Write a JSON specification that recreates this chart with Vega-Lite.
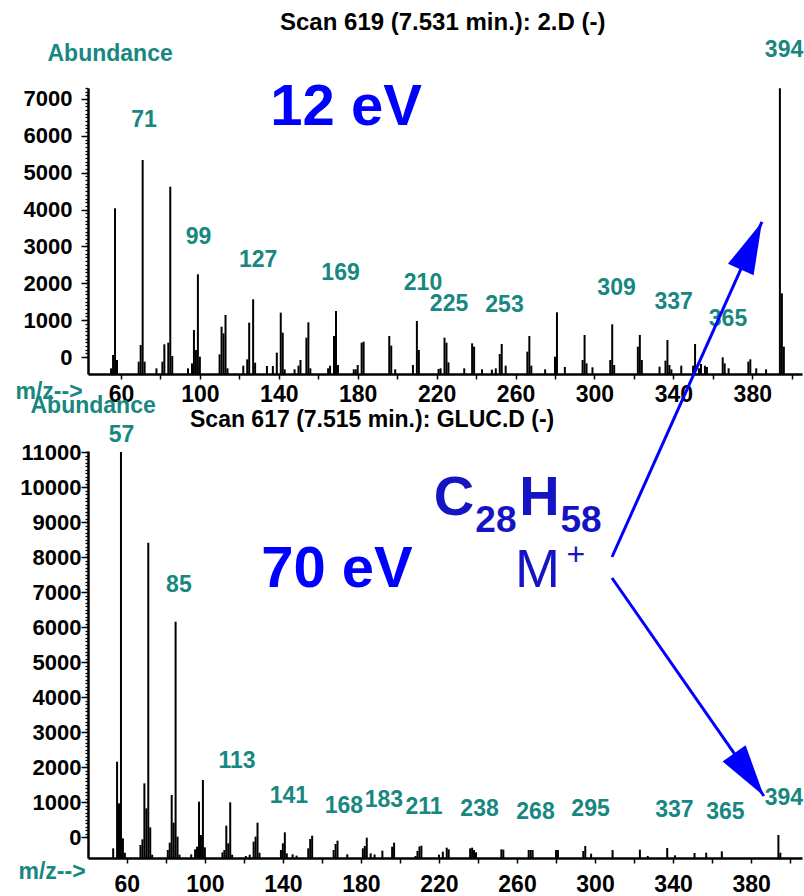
{
  "$schema": "https://vega.github.io/schema/vega-lite/v6.json",
  "background": "white",
  "padding": {"left": 15, "top": 11, "right": 0, "bottom": 0},
  "bounds": "flush",
  "spacing": 77,
  "config": {
    "view": {"stroke": null},
    "font": "Liberation Sans",
    "axis": {"grid": false, "domainColor": "black", "domainWidth": 2.5, "tickColor": "black", "tickWidth": 1.5, "labelColor": "black", "labelFont": "Liberation Sans", "labelFontWeight": "bold", "labelFontSize": 23, "labelOverlap": false, "labelFlush": false, "titleFont": "Liberation Sans", "titleFontWeight": "bold", "titleFontSize": 23, "titleColor": "#17877f", "titleAngle": 0, "titleAlign": "left", "titleBaseline": "alphabetic"}
  },
  "datasets": {
    "spec12": [
      {"mz":55,"abundance":154},{"mz":56,"abundance":515},{"mz":57,"abundance":4495},{"mz":58,"abundance":380},
      {"mz":69,"abundance":334},{"mz":70,"abundance":787},{"mz":71,"abundance":5806},{"mz":72,"abundance":334},
      {"mz":78,"abundance":154},
      {"mz":81,"abundance":334},{"mz":82,"abundance":805},{"mz":84,"abundance":850},{"mz":85,"abundance":5081},{"mz":86,"abundance":488},
      {"mz":94,"abundance":154},{"mz":96,"abundance":289},{"mz":97,"abundance":1194},{"mz":98,"abundance":651},{"mz":99,"abundance":2704},{"mz":100,"abundance":470},
      {"mz":110,"abundance":534},{"mz":111,"abundance":1284},{"mz":112,"abundance":1103},{"mz":113,"abundance":1601},{"mz":114,"abundance":154},
      {"mz":122,"abundance":226},{"mz":124,"abundance":398},{"mz":125,"abundance":1393},{"mz":127,"abundance":2026},{"mz":128,"abundance":307},
      {"mz":134,"abundance":217},{"mz":137,"abundance":217},{"mz":139,"abundance":579},{"mz":141,"abundance":1664},{"mz":142,"abundance":1122},{"mz":143,"abundance":127},
      {"mz":148,"abundance":127},{"mz":150,"abundance":226},{"mz":151,"abundance":380},{"mz":154,"abundance":986},{"mz":155,"abundance":1402},{"mz":156,"abundance":154},
      {"mz":165,"abundance":154},{"mz":166,"abundance":226},{"mz":168,"abundance":1031},{"mz":169,"abundance":1709},{"mz":170,"abundance":244},
      {"mz":178,"abundance":127},{"mz":179,"abundance":127},{"mz":180,"abundance":244},{"mz":182,"abundance":850},{"mz":183,"abundance":877},
      {"mz":196,"abundance":1031},{"mz":197,"abundance":769},{"mz":199,"abundance":127},
      {"mz":208,"abundance":244},{"mz":210,"abundance":1438},{"mz":211,"abundance":651},
      {"mz":221,"abundance":136},{"mz":222,"abundance":154},{"mz":224,"abundance":986},{"mz":225,"abundance":850},{"mz":226,"abundance":316},
      {"mz":234,"abundance":154},{"mz":238,"abundance":832},{"mz":239,"abundance":741},{"mz":243,"abundance":127},
      {"mz":248,"abundance":118},{"mz":250,"abundance":154},{"mz":252,"abundance":543},{"mz":253,"abundance":814},{"mz":255,"abundance":226},
      {"mz":266,"abundance":606},{"mz":267,"abundance":1031},{"mz":268,"abundance":226},
      {"mz":275,"abundance":127},{"mz":280,"abundance":470},{"mz":281,"abundance":1673},{"mz":285,"abundance":190},
      {"mz":294,"abundance":380},{"mz":295,"abundance":1058},{"mz":296,"abundance":289},{"mz":299,"abundance":181},
      {"mz":308,"abundance":380},{"mz":309,"abundance":1348},{"mz":310,"abundance":244},
      {"mz":322,"abundance":741},{"mz":323,"abundance":1058},{"mz":324,"abundance":380},
      {"mz":333,"abundance":199},{"mz":336,"abundance":362},{"mz":337,"abundance":922},{"mz":338,"abundance":244},{"mz":339,"abundance":127},
      {"mz":344,"abundance":226},{"mz":350,"abundance":226},{"mz":351,"abundance":814},{"mz":353,"abundance":154},{"mz":354,"abundance":271},{"mz":356,"abundance":226},{"mz":357,"abundance":190},
      {"mz":365,"abundance":452},{"mz":366,"abundance":289},{"mz":368,"abundance":154},
      {"mz":378,"abundance":334},{"mz":379,"abundance":398},{"mz":382,"abundance":154},{"mz":387,"abundance":127},
      {"mz":394,"abundance":7751},{"mz":395,"abundance":2188},{"mz":396,"abundance":741}
    ],
    "spec70": [
      {"mz":53,"abundance":276},{"mz":55,"abundance":2752},{"mz":56,"abundance":1562},{"mz":57,"abundance":11600},{"mz":58,"abundance":562},{"mz":59,"abundance":150},
      {"mz":67,"abundance":371},{"mz":68,"abundance":533},{"mz":69,"abundance":2133},{"mz":70,"abundance":1419},{"mz":71,"abundance":9009},{"mz":72,"abundance":876},{"mz":73,"abundance":95},
      {"mz":81,"abundance":229},{"mz":82,"abundance":438},{"mz":83,"abundance":1800},{"mz":84,"abundance":1010},{"mz":85,"abundance":6752},{"mz":86,"abundance":610},{"mz":87,"abundance":95},
      {"mz":93,"abundance":105},{"mz":95,"abundance":248},{"mz":96,"abundance":324},{"mz":97,"abundance":1610},{"mz":98,"abundance":657},{"mz":99,"abundance":2229},{"mz":100,"abundance":305},
      {"mz":109,"abundance":162},{"mz":110,"abundance":229},{"mz":111,"abundance":924},{"mz":112,"abundance":419},{"mz":113,"abundance":1590},{"mz":114,"abundance":95},
      {"mz":121,"abundance":57},{"mz":123,"abundance":95},
      {"mz":125,"abundance":467},{"mz":126,"abundance":610},{"mz":127,"abundance":1010},{"mz":128,"abundance":150},
      {"mz":139,"abundance":229},{"mz":140,"abundance":419},{"mz":141,"abundance":733},{"mz":142,"abundance":133},{"mz":145,"abundance":105},{"mz":147,"abundance":67},
      {"mz":153,"abundance":276},{"mz":154,"abundance":543},{"mz":155,"abundance":638},
      {"mz":166,"abundance":229},{"mz":167,"abundance":400},{"mz":168,"abundance":495},{"mz":173,"abundance":105},
      {"mz":181,"abundance":276},{"mz":182,"abundance":343},{"mz":183,"abundance":581},{"mz":185,"abundance":133},{"mz":187,"abundance":100},
      {"mz":191,"abundance":210},{"mz":196,"abundance":324},{"mz":197,"abundance":438},
      {"mz":208,"abundance":57},{"mz":209,"abundance":200},{"mz":210,"abundance":330},{"mz":211,"abundance":352},
      {"mz":220,"abundance":95},{"mz":222,"abundance":181},{"mz":224,"abundance":295},{"mz":225,"abundance":248},
      {"mz":236,"abundance":276},{"mz":237,"abundance":295},{"mz":238,"abundance":229},{"mz":239,"abundance":162},
      {"mz":252,"abundance":248},{"mz":253,"abundance":238},
      {"mz":266,"abundance":229},{"mz":267,"abundance":229},{"mz":268,"abundance":229},
      {"mz":280,"abundance":229},{"mz":281,"abundance":229},
      {"mz":294,"abundance":200},{"mz":295,"abundance":343},{"mz":298,"abundance":124},
      {"mz":309,"abundance":229},{"mz":323,"abundance":238},{"mz":327,"abundance":57},{"mz":337,"abundance":286},{"mz":341,"abundance":76},
      {"mz":351,"abundance":143},{"mz":357,"abundance":152},{"mz":365,"abundance":190},
      {"mz":394,"abundance":657},{"mz":395,"abundance":150}
    ],
    "labels12": [
      {"x":71.7,"y":6701,"label":"71"},{"x":396.1,"y":8600,"label":"394"},{"x":99.3,"y":3527,"label":"99"},
      {"x":129.5,"y":2903,"label":"127"},{"x":171.3,"y":2550,"label":"169"},{"x":213.1,"y":2279,"label":"210"},
      {"x":226.3,"y":1709,"label":"225"},{"x":254.4,"y":1682,"label":"253"},{"x":311.2,"y":2143,"label":"309"},
      {"x":340.1,"y":1763,"label":"337"},{"x":367.7,"y":1302,"label":"365"}
    ],
    "labels70": [
      {"x":57.3,"y":11886,"label":"57"},{"x":86.7,"y":7600,"label":"85"},{"x":116.5,"y":2571,"label":"113"},
      {"x":143.1,"y":1571,"label":"141"},{"x":171.3,"y":1286,"label":"168"},{"x":191.8,"y":1457,"label":"183"},
      {"x":212.3,"y":1257,"label":"211"},{"x":240.8,"y":1200,"label":"238"},{"x":269.5,"y":1114,"label":"268"},
      {"x":297.7,"y":1200,"label":"295"},{"x":340.7,"y":1171,"label":"337"},{"x":366.8,"y":1114,"label":"365"},
      {"x":396.8,"y":1514,"label":"394"}
    ],
    "arrows": [
      {"id":"a1","x1":308.9,"y1":-4965,"x2":384.9,"y2":4124},
      {"id":"a2","x1":308.9,"y1":-5534,"x2":385.9,"y2":-11449}
    ]
  },
  "vconcat": [
    {
      "width": 714,
      "height": 286,
      "title": {"text": "Scan 619 (7.531 min.): 2.D (-)", "anchor": "start", "frame": "group", "dx": 192, "offset": -15, "baseline": "alphabetic", "font": "Liberation Sans", "fontSize": 24, "fontWeight": "bold", "color": "black"},
      "resolve": {"axis": {"y": "independent"}},
      "layer": [
        {
          "data": {"name": "spec12"},
          "mark": {"type": "rule", "strokeWidth": 2, "color": "black"},
          "encoding": {
            "x": {"field": "mz", "type": "quantitative", "scale": {"domain": [43.3, 405.2], "nice": false, "zero": false},
              "axis": {"title": "m/z-->", "titleX": -73, "titleY": 24, "values": [60,80,100,120,140,160,180,200,220,240,260,280,300,320,340,360,380,400], "labelExpr": "datum.value % 40 === 20 ? datum.label : ''", "format": "d", "labelOverlap": false, "labelFlush": false, "domain": true, "domainColor": "black", "domainWidth": 2.5, "ticks": true, "tickColor": "black", "tickWidth": 1.5, "tickSize": 5, "labelPadding": 4}},
            "y": {"field": "abundance", "type": "quantitative", "scale": {"domain": [0, 7759], "nice": false, "zero": false},
              "axis": {"orient": "left", "title": "Abundance", "titleX": -41, "titleY": -28, "format": "d", "tickOffset": -17, "labelFontSize": 22, "labelPadding": 9, "labelOverlap": false, "labelFlush": false, "domain": true, "domainColor": "black", "domainWidth": 2.5, "ticks": true, "tickColor": "black", "tickWidth": 1.5, "tickSize": 7,
                "values": [0,1000,2000,3000,4000,5000,6000,7000]}},
            "y2": {"datum": 0}
          }
        },
        {
          "data": {"name": "labels12"},
          "mark": {"type": "text", "font": "Liberation Sans", "fontSize": 23, "fontWeight": "bold", "color": "#17877f", "align": "center", "baseline": "alphabetic"},
          "encoding": {
            "x": {"field": "x", "type": "quantitative", "scale": {"domain": [43.3, 405.2], "nice": false, "zero": false}},
            "y": {"field": "y", "type": "quantitative", "scale": {"domain": [0, 7759], "nice": false, "zero": false},
              "axis": {"orient": "left", "title": null, "labels": false, "domain": false, "ticks": true, "tickColor": "black", "tickWidth": 1.3, "tickSize": 3, "tickOffset": -17,
                "values": [-400,-300,-200,-100,0,100,200,300,400,500,600,700,800,900,1000,1100,1200,1300,1400,1500,1600,1700,1800,1900,2000,2100,2200,2300,2400,2500,2600,2700,2800,2900,3000,3100,3200,3300,3400,3500,3600,3700,3800,3900,4000,4100,4200,4300,4400,4500,4600,4700,4800,4900,5000,5100,5200,5300,5400,5500,5600,5700,5800,5900,6000,6100,6200,6300,6400,6500,6600,6700,6800,6900,7000,7100,7200,7300]}},
            "text": {"field": "label"}
          }
        },
        {
          "data": {"values": [{"x": 174.1, "y": 6755, "label": "12 eV"}]},
          "mark": {"type": "text", "font": "Liberation Sans", "fontSize": 58, "fontWeight": "bold", "color": "#0000ff", "align": "center", "baseline": "alphabetic"},
          "encoding": {
            "x": {"field": "x", "type": "quantitative", "scale": {"domain": [43.3, 405.2], "nice": false, "zero": false}},
            "y": {"field": "y", "type": "quantitative", "scale": {"domain": [0, 7759], "nice": false, "zero": false}, "axis": null},
            "text": {"field": "label"}
          }
        },
        {
          "data": {"name": "arrows"},
          "mark": {"type": "rule", "strokeWidth": 3, "color": "#0000ff"},
          "encoding": {
            "x": {"field": "x1", "type": "quantitative", "scale": {"domain": [43.3, 405.2], "nice": false, "zero": false}},
            "y": {"field": "y1", "type": "quantitative", "scale": {"domain": [0, 7759], "nice": false, "zero": false}, "axis": null},
            "x2": {"field": "x2"},
            "y2": {"field": "y2"}
          }
        },
        {
          "data": {"name": "arrows"},
          "transform": [{"filter": "datum.id === 'a1'"}],
          "mark": {"type": "point", "shape": "M0,0L0.54,2L-0.54,2Z", "filled": true, "size": 2704, "angle": 24, "color": "#0000ff", "opacity": 1, "strokeWidth": 0},
          "encoding": {
            "x": {"field": "x2", "type": "quantitative", "scale": {"domain": [43.3, 405.2], "nice": false, "zero": false}},
            "y": {"field": "y2", "type": "quantitative", "scale": {"domain": [0, 7759], "nice": false, "zero": false}, "axis": null}
          }
        },
        {
          "data": {"name": "arrows"},
          "transform": [{"filter": "datum.id === 'a2'"}],
          "mark": {"type": "point", "shape": "M0,0L0.54,2L-0.54,2Z", "filled": true, "size": 2704, "angle": 145, "color": "#0000ff", "opacity": 1, "strokeWidth": 0},
          "encoding": {
            "x": {"field": "x2", "type": "quantitative", "scale": {"domain": [43.3, 405.2], "nice": false, "zero": false}},
            "y": {"field": "y2", "type": "quantitative", "scale": {"domain": [0, 7759], "nice": false, "zero": false}, "axis": null}
          }
        }
      ]
    },
    {
      "width": 714,
      "height": 407,
      "title": {"text": "Scan 617 (7.515 min.): GLUC.D (-)", "anchor": "start", "frame": "group", "dx": 102, "offset": 0, "dy": 56, "baseline": "alphabetic", "font": "Liberation Sans", "fontSize": 23, "fontWeight": "bold", "color": "black"},
      "resolve": {"axis": {"y": "independent"}},
      "layer": [
        {
          "data": {"name": "spec70"},
          "mark": {"type": "rule", "strokeWidth": 2, "color": "black"},
          "encoding": {
            "x": {"field": "mz", "type": "quantitative", "scale": {"domain": [40.1, 406.1], "nice": false, "zero": false},
              "axis": {"title": "m/z-->", "titleX": -70, "titleY": 20, "values": [60,80,100,120,140,160,180,200,220,240,260,280,300,320,340,360,380,400], "labelExpr": "datum.value % 40 === 20 ? datum.label : ''", "format": "d", "labelOverlap": false, "labelFlush": false, "domain": true, "domainColor": "black", "domainWidth": 2.5, "ticks": true, "tickColor": "black", "tickWidth": 1.5, "tickSize": 5, "labelPadding": 10}},
            "y": {"field": "abundance", "type": "quantitative", "scale": {"domain": [0, 11630], "nice": false, "zero": false},
              "axis": {"orient": "left", "title": "Abundance", "titleX": -58, "titleY": -39, "format": "d", "tickOffset": -21, "labelFontSize": 22, "labelPadding": 0, "labelOverlap": false, "labelFlush": false, "domain": true, "domainColor": "black", "domainWidth": 2.5, "ticks": true, "tickColor": "black", "tickWidth": 1.5, "tickSize": 7,
                "values": [0,1000,2000,3000,4000,5000,6000,7000,8000,9000,10000,11000]}},
            "y2": {"datum": 0}
          }
        },
        {
          "data": {"name": "labels70"},
          "mark": {"type": "text", "font": "Liberation Sans", "fontSize": 23, "fontWeight": "bold", "color": "#17877f", "align": "center", "baseline": "alphabetic"},
          "encoding": {
            "x": {"field": "x", "type": "quantitative", "scale": {"domain": [40.1, 406.1], "nice": false, "zero": false}},
            "y": {"field": "y", "type": "quantitative", "scale": {"domain": [0, 11630], "nice": false, "zero": false},
              "axis": {"orient": "left", "title": null, "labels": false, "domain": false, "ticks": true, "tickColor": "black", "tickWidth": 1.3, "tickSize": 3, "tickOffset": -21,
                "values": [-500,-400,-300,-200,-100,0,100,200,300,400,500,600,700,800,900,1000,1100,1200,1300,1400,1500,1600,1700,1800,1900,2000,2100,2200,2300,2400,2500,2600,2700,2800,2900,3000,3100,3200,3300,3400,3500,3600,3700,3800,3900,4000,4100,4200,4300,4400,4500,4600,4700,4800,4900,5000,5100,5200,5300,5400,5500,5600,5700,5800,5900,6000,6100,6200,6300,6400,6500,6600,6700,6800,6900,7000,7100,7200,7300,7400,7500,7600,7700,7800,7900,8000,8100,8200,8300,8400,8500,8600,8700,8800,8900,9000,9100,9200,9300,9400,9500,9600,9700,9800,9900,10000,10100,10200,10300,10400,10500,10600,10700,10800,10900,11000]}},
            "text": {"field": "label"}
          }
        },
        {
          "data": {"values": [{"x": 167.7, "y": 7743, "label": "70 eV"}]},
          "mark": {"type": "text", "font": "Liberation Sans", "fontSize": 58, "fontWeight": "bold", "color": "#0000ff", "align": "center", "baseline": "alphabetic"},
          "encoding": {
            "x": {"field": "x", "type": "quantitative", "scale": {"domain": [40.1, 406.1], "nice": false, "zero": false}},
            "y": {"field": "y", "type": "quantitative", "scale": {"domain": [0, 11630], "nice": false, "zero": false}, "axis": null},
            "text": {"field": "label"}
          }
        },
        {
          "data": {"values": [{"x": 227.7, "y": 9800, "label": "C"}, {"x": 271.5, "y": 9800, "label": "H"}]},
          "mark": {"type": "text", "font": "Liberation Sans", "fontSize": 56, "fontWeight": "bold", "color": "#1414c4", "align": "center", "baseline": "alphabetic"},
          "encoding": {
            "x": {"field": "x", "type": "quantitative", "scale": {"domain": [40.1, 406.1], "nice": false, "zero": false}},
            "y": {"field": "y", "type": "quantitative", "scale": {"domain": [0, 11630], "nice": false, "zero": false}, "axis": null},
            "text": {"field": "label"}
          }
        },
        {
          "data": {"values": [{"x": 249.2, "y": 9314, "label": "28"}, {"x": 292.8, "y": 9314, "label": "58"}]},
          "mark": {"type": "text", "font": "Liberation Sans", "fontSize": 37, "fontWeight": "bold", "color": "#1414c4", "align": "center", "baseline": "alphabetic"},
          "encoding": {
            "x": {"field": "x", "type": "quantitative", "scale": {"domain": [40.1, 406.1], "nice": false, "zero": false}},
            "y": {"field": "y", "type": "quantitative", "scale": {"domain": [0, 11630], "nice": false, "zero": false}, "axis": null},
            "text": {"field": "label"}
          }
        },
        {
          "data": {"values": [{"x": 270.5, "y": 7743, "label": "M"}]},
          "mark": {"type": "text", "font": "Liberation Sans", "fontSize": 54, "fontWeight": "normal", "color": "#1414c4", "align": "center", "baseline": "alphabetic"},
          "encoding": {
            "x": {"field": "x", "type": "quantitative", "scale": {"domain": [40.1, 406.1], "nice": false, "zero": false}},
            "y": {"field": "y", "type": "quantitative", "scale": {"domain": [0, 11630], "nice": false, "zero": false}, "axis": null},
            "text": {"field": "label"}
          }
        },
        {
          "data": {"values": [{"x": 290.2, "y": 8371, "label": "+"}]},
          "mark": {"type": "text", "font": "Liberation Sans", "fontSize": 32, "fontWeight": "normal", "color": "#1414c4", "align": "center", "baseline": "alphabetic"},
          "encoding": {
            "x": {"field": "x", "type": "quantitative", "scale": {"domain": [40.1, 406.1], "nice": false, "zero": false}},
            "y": {"field": "y", "type": "quantitative", "scale": {"domain": [0, 11630], "nice": false, "zero": false}, "axis": null},
            "text": {"field": "label"}
          }
        }
      ]
    }
  ]
}
